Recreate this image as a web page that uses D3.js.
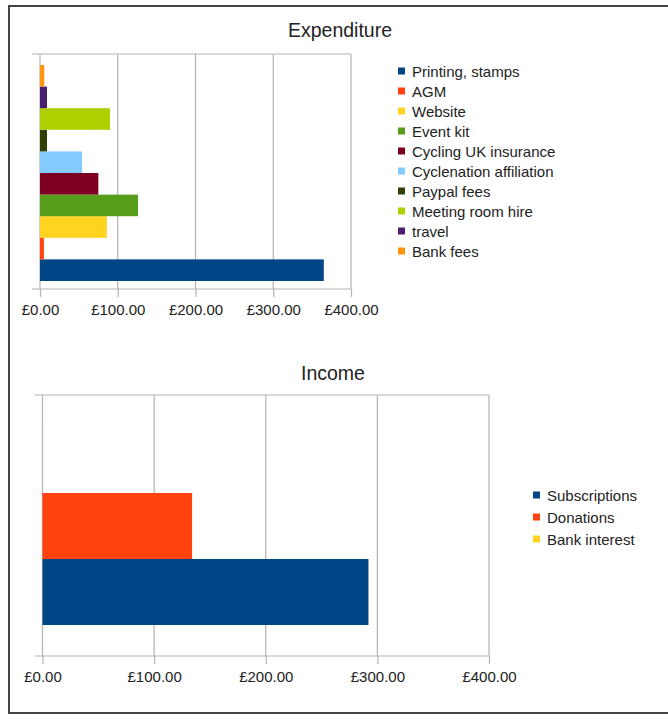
<!DOCTYPE html>
<html>
<head>
<meta charset="utf-8">
<script src="https://cdn.jsdelivr.net/npm/d3@7"></script>
<style>
  body { margin: 0; background: #fff; }
  text { font-family: "Liberation Sans", Arial, sans-serif; fill: #222; }
</style>
</head>
<body>
<div id="chart"></div>
<script>
// expenditure data (GBP)
var expCategories = ["Printing, stamps", "AGM", "Website", "Event kit", "Cycling UK insurance",
  "Cyclenation affiliation", "Paypal fees", "Meeting room hire", "travel", "Bank fees"];
var expValues = [365, 5, 86, 126, 75, 54, 9, 90, 9, 5.5];
var expColors = ["#004586", "#ff420e", "#ffd320", "#579d1c", "#7e0021",
  "#83caff", "#314004", "#aecf00", "#4b1f6f", "#ff950e"];

// income data (GBP)
var incCategories = ["Subscriptions", "Donations", "Bank interest"];
var incValues = [292, 134, 0.1];
var incColors = ["#004586", "#ff420e", "#ffd320"];

var tickValues = [0, 100, 200, 300, 400];
var fmt = d => "£" + d3.format(".2f")(d);

var svgWidth = 668;
var svgHeight = 719;

var svg = d3.select("#chart")
  .append("svg")
  .attr("width", svgWidth)
  .attr("height", svgHeight);

// outer frame
svg.append("rect")
  .attr("x", 9)
  .attr("y", 6)
  .attr("width", 700)
  .attr("height", 707)
  .attr("fill", "none")
  .attr("stroke", "#444")
  .attr("stroke-width", 2);

// draws one horizontal bar chart with its legend
function drawChart(cfg) {
  var g = svg.append("g");

  var x = d3.scaleLinear()
    .domain([0, 400])
    .range([cfg.x0, cfg.x1]);

  // series are stacked bottom-up, first series at the bottom
  var y = d3.scaleBand()
    .domain(cfg.categories.slice().reverse())
    .range([cfg.barTop, cfg.barBottom]);

  // title
  g.append("text")
    .attr("x", cfg.titleX)
    .attr("y", cfg.titleY)
    .attr("text-anchor", "middle")
    .style("font-size", "19.5px")
    .text(cfg.title);

  // vertical gridlines
  g.selectAll(".grid")
    .data(tickValues)
    .enter()
    .append("line")
    .attr("x1", d => x(d))
    .attr("x2", d => x(d))
    .attr("y1", cfg.top)
    .attr("y2", cfg.bottom)
    .attr("stroke", "#b3b3b3")
    .attr("stroke-width", 1.2);

  // top and bottom lines
  [cfg.top, cfg.bottom].forEach(function(yy) {
    g.append("line")
      .attr("x1", cfg.x0 - 8)
      .attr("x2", cfg.x1)
      .attr("y1", yy)
      .attr("y2", yy)
      .attr("stroke", "#b3b3b3")
      .attr("stroke-width", 1.2);
  });

  // bars
  g.selectAll(".bar")
    .data(cfg.categories)
    .enter()
    .append("rect")
    .attr("x", x(0))
    .attr("y", d => y(d))
    .attr("width", (d, i) => x(cfg.values[i]) - x(0))
    .attr("height", y.bandwidth())
    .attr("fill", (d, i) => cfg.colors[i]);

  // x axis with ticks and labels
  var axis = g.append("g")
    .attr("transform", `translate(0, ${cfg.bottom})`)
    .call(d3.axisBottom(x).tickValues(tickValues).tickFormat(fmt).tickSize(8).tickPadding(7));
  axis.select(".domain").remove();
  axis.selectAll(".tick line").attr("stroke", "#b3b3b3").attr("stroke-width", 1.2);
  axis.selectAll(".tick text")
    .style("font-size", "15px")
    .style("font-family", "Liberation Sans, Arial, sans-serif")
    .attr("fill", "#222");

  // legend
  var legend = g.selectAll(".legend")
    .data(cfg.categories)
    .enter()
    .append("g")
    .attr("transform", (d, i) => `translate(${cfg.legendX}, ${cfg.legendY + i * cfg.legendStep})`);

  legend.append("rect")
    .attr("x", 0)
    .attr("y", -3.5)
    .attr("width", 7)
    .attr("height", 7)
    .attr("fill", (d, i) => cfg.colors[i]);

  legend.append("text")
    .attr("x", 14)
    .attr("y", 5.5)
    .style("font-size", "15px")
    .text(d => d);
}

drawChart({
  title: "Expenditure",
  titleX: 340,
  titleY: 37,
  categories: expCategories,
  values: expValues,
  colors: expColors,
  x0: 40,
  x1: 351,
  top: 54,
  bottom: 289,
  barTop: 65,
  barBottom: 281,
  legendX: 398,
  legendY: 71,
  legendStep: 20
});

drawChart({
  title: "Income",
  titleX: 333,
  titleY: 380,
  categories: incCategories,
  values: incValues,
  colors: incColors,
  x0: 42.5,
  x1: 489,
  top: 395,
  bottom: 656,
  barTop: 427,
  barBottom: 625,
  legendX: 533,
  legendY: 495,
  legendStep: 22
});
</script>
</body>
</html>
